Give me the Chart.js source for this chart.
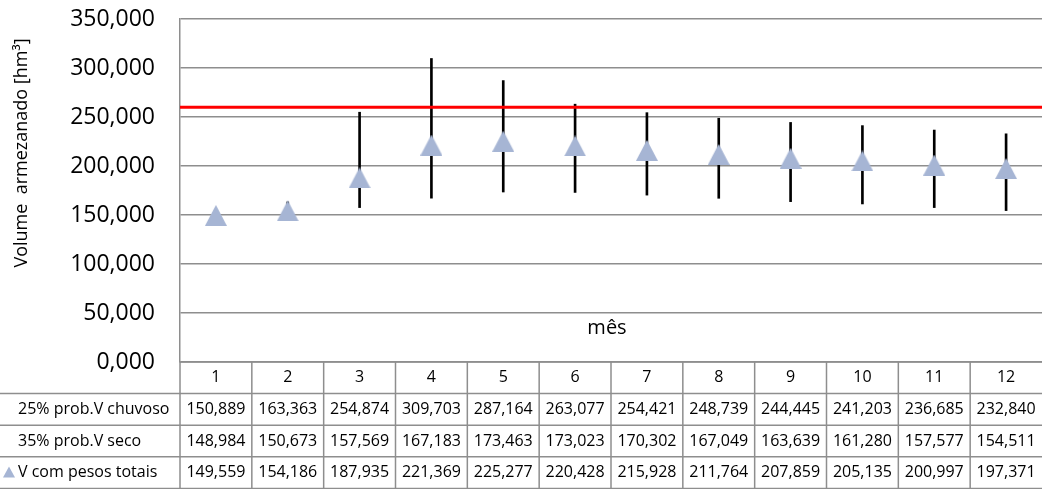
<!DOCTYPE html>
<html>
<head>
<meta charset="utf-8">
<script src="https://cdn.jsdelivr.net/npm/chart.js@4/dist/chart.umd.min.js"></script>
<style>
	html, body { margin: 0; padding: 0; background: #fff; }
	canvas { display: block; }
</style>
</head>
<body>
<canvas id="chart" width="1042" height="489"></canvas>
<script>
// data (hm³)
const months = ['1', '2', '3', '4', '5', '6', '7', '8', '9', '10', '11', '12']
const vChuvoso = [150.889, 163.363, 254.874, 309.703, 287.164, 263.077, 254.421, 248.739, 244.445, 241.203, 236.685, 232.840]
const vSeco = [148.984, 150.673, 157.569, 167.183, 173.463, 173.023, 170.302, 167.049, 163.639, 161.280, 157.577, 154.511]
const vPesos = [149.559, 154.186, 187.935, 221.369, 225.277, 220.428, 215.928, 211.764, 207.859, 205.135, 200.997, 197.371]
const rowLabels = ['25% prob.V chuvoso', '35% prob.V seco', 'V com pesos totais']
const limite = 260
const yMin = 0
const yMax = 350
const yStep = 50

const FONT = '"Open Sans", "DejaVu Sans", sans-serif'
const GRID = '#8e8e8e'
const MARKER = '#a6b5d4'

function fmt(v) {
	return v.toFixed(3).replace('.', ',')
}

// Excel style triangle marker (as tall as it is wide)
function make_triangle(w, h) {
	const c = document.createElement('canvas')
	c.width = w
	c.height = h
	const g = c.getContext('2d')
	g.fillStyle = MARKER
	g.beginPath()
	g.moveTo(w / 2, 0)
	g.lineTo(w, h)
	g.lineTo(0, h)
	g.closePath()
	g.fill()
	return c
}

const triangle = make_triangle(22, 21)

const extras = {
	id: 'extras',
	afterDatasetsDraw(chart) {
		const {ctx, chartArea, scales} = chart
		const y = scales.y.getPixelForValue(limite)
		ctx.save()
		ctx.strokeStyle = '#ff0000'
		ctx.lineWidth = 3
		ctx.beginPath()
		ctx.moveTo(chartArea.left, y)
		ctx.lineTo(chartArea.right, y)
		ctx.stroke()
		ctx.restore()
	},
	afterDraw(chart) {
		const {ctx, chartArea, scales} = chart
		const x = scales.x
		const half = (x.getPixelForValue(1) - x.getPixelForValue(0)) / 2
		const rowH = 31.6
		const top = chartArea.bottom
		const rows = [months, vChuvoso.map(fmt), vSeco.map(fmt), vPesos.map(fmt)]

		ctx.save()
		// axis title and "mês"
		ctx.fillStyle = '#000'
		ctx.font = '18px ' + FONT
		ctx.textAlign = 'center'
		ctx.textBaseline = 'middle'
		ctx.translate(22, 153)
		ctx.rotate(-Math.PI / 2)
		ctx.fillText('Volume  armezanado [hm³]', 0, 0)
		ctx.setTransform(1, 0, 0, 1, 0, 0)
		ctx.font = '20px ' + FONT
		ctx.fillText('mês', (chartArea.left + chartArea.right) / 2 - 4, top - 34)

		// data table
		ctx.strokeStyle = GRID
		ctx.lineWidth = 1.5
		ctx.beginPath()
		ctx.moveTo(chartArea.left, top)
		ctx.lineTo(chartArea.right, top)
		for (let r = 1; r <= 4; r++) {
			ctx.moveTo(0, top + r * rowH)
			ctx.lineTo(chartArea.right, top + r * rowH)
		}
		for (let i = 0; i < months.length; i++) {
			const cx = x.getPixelForValue(i)
			ctx.moveTo(cx - half, top)
			ctx.lineTo(cx - half, top + 4 * rowH)
		}
		ctx.stroke()

		ctx.font = '16px ' + FONT
		rows.forEach((row, r) => {
			const cy = top + (r + 0.5) * rowH
			ctx.textAlign = 'center'
			row.forEach((txt, i) => ctx.fillText(txt, x.getPixelForValue(i), cy))
			if (r > 0) {
				ctx.textAlign = 'left'
				ctx.fillText(rowLabels[r - 1], 18, cy)
			}
		})

		// legend key for the triangle series
		const ky = top + 3.5 * rowH
		ctx.fillStyle = MARKER
		ctx.beginPath()
		ctx.moveTo(9, ky - 6)
		ctx.lineTo(15, ky + 5)
		ctx.lineTo(3, ky + 5)
		ctx.closePath()
		ctx.fill()
		ctx.restore()
	}
}

const chart = new Chart(document.getElementById('chart'), {
	type: 'bar',
	data: {
		labels: months,
		datasets: [{
			type: 'line',
			label: rowLabels[2],
			data: vPesos,
			showLine: false,
			pointStyle: triangle,
			pointRadius: 11,
			order: 0
		}, {
			type: 'bar',
			label: 'intervalo',
			data: vSeco.map((s, i) => [s, vChuvoso[i]]),
			backgroundColor: '#000',
			barThickness: 2,
			order: 1
		}]
	},
	options: {
		responsive: false,
		animation: false,
		layout: {
			autoPadding: false,
			padding: {top: 19, bottom: 127, left: 0, right: 0}
		},
		plugins: {
			legend: {display: false},
			tooltip: {enabled: false}
		},
		scales: {
			x: {
				grid: {display: false},
				border: {display: false},
				ticks: {display: false},
				afterFit(s) { s.height = 0 }
			},
			y: {
				min: yMin,
				max: yMax,
				ticks: {
					stepSize: yStep,
					padding: 25,
					color: '#000',
					font: {family: FONT, size: 23},
					callback: v => fmt(v)
				},
				grid: {color: GRID, lineWidth: 1.5, drawTicks: false},
				border: {display: true, color: GRID, width: 1.5},
				afterFit(s) {
					s.width = 180
					s.paddingTop = 0
					s.paddingBottom = 0
				}
			}
		}
	},
	plugins: [extras]
})
</script>
</body>
</html>
